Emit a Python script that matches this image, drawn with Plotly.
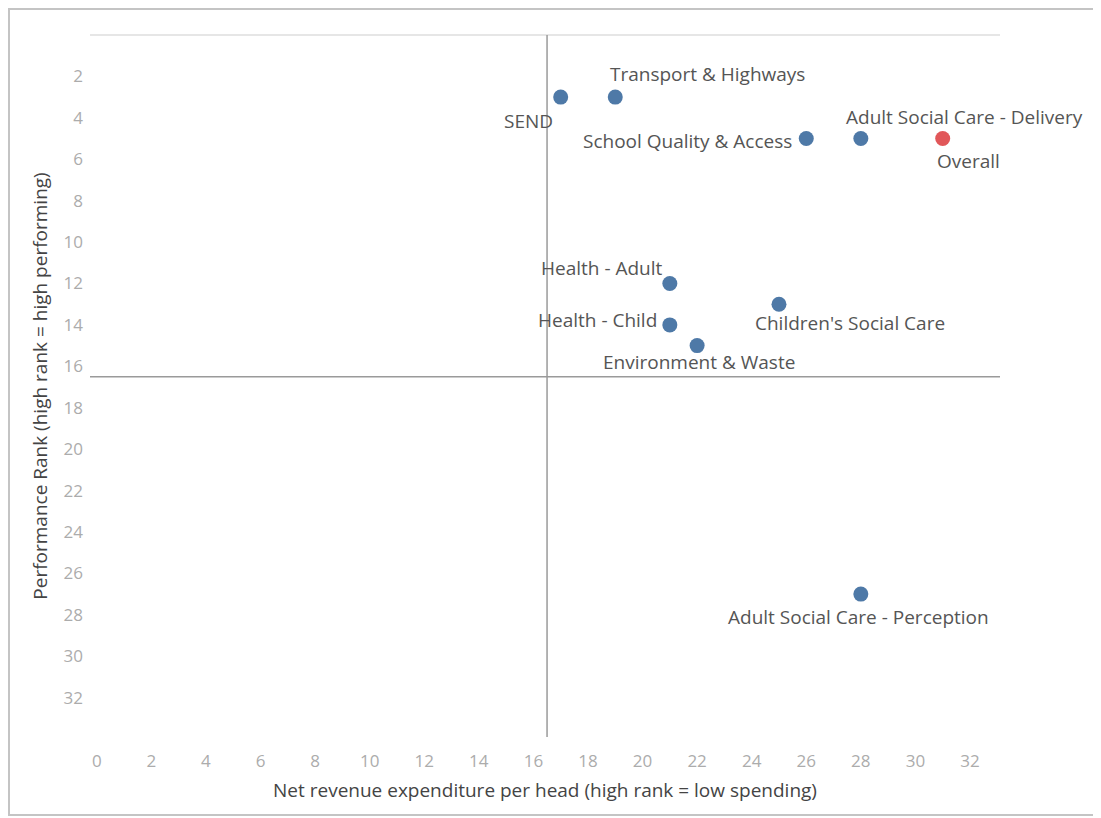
import plotly.graph_objects as go

# Data
labels = ["SEND", "Transport & Highways", "School Quality & Access",
          "Adult Social Care - Delivery", "Overall", "Health - Adult",
          "Health - Child", "Children's Social Care", "Environment & Waste",
          "Adult Social Care - Perception"]
spend_rank = [17, 19, 26, 28, 31, 21, 21, 25, 22, 28]
perf_rank = [3, 3, 5, 5, 5, 12, 14, 13, 15, 27]
is_overall = [False, False, False, False, True, False, False, False, False, False]

x_ticks = list(range(0, 33, 2))
y_ticks = list(range(2, 33, 2))
x_ref = 16.5
y_ref = 16.5
x_range = [-0.25, 33.1]
y_range = [33.9, 0]

# label placement (pixel offsets from the dot; anchor)
label_style = [
    (-32, -24, "center"), (92, 23, "center"), (-12, -2, "right"),
    (104, 22, "center"), (26, -22, "center"), (-68, 16, "center"),
    (-72, 5, "center"), (71, -19, "center"), (2, -16, "center"),
    (-2, -23, "center"),
]

BLUE = "#4e79a7"
RED = "#e15759"
colors = [RED if o else BLUE for o in is_overall]

W, H = 1093, 810
L, R, T, B = 82, 101, 27, 81
pw, ph = W - L - R, H - T - B

fig = go.Figure()
fig.add_trace(go.Scatter(
    x=spend_rank, y=perf_rank, mode="markers",
    marker=dict(size=15, color=colors),
    cliponaxis=False, hoverinfo="skip", showlegend=False,
))

for lab, xv, yv, (dx, dy, anc) in zip(labels, spend_rank, perf_rank, label_style):
    fig.add_annotation(x=xv, y=yv, xref="x", yref="y", text=lab, showarrow=False,
                       xanchor=anc, yanchor="middle", xshift=dx, yshift=dy,
                       font=dict(family="Open Sans", size=19, color="#555555"))

# reference lines
fig.add_shape(type="line", xref="x", yref="y", x0=x_ref, x1=x_ref,
              y0=y_range[1], y1=y_range[0], line=dict(color="#9a9a9a", width=1.5))
fig.add_shape(type="line", xref="x", yref="y", x0=x_range[0], x1=x_range[1],
              y0=y_ref, y1=y_ref, line=dict(color="#9a9a9a", width=1.5))

# outer frame
fig.add_shape(type="rect", xref="paper", yref="paper",
              x0=(1 - L) / pw, x1=(W - 5 - L) / pw,
              y0=(ph + T - (H - 3)) / ph, y1=(ph + T - 1) / ph,
              line=dict(color="#c4c4c4", width=2), layer="below")

fig.update_layout(
    width=W, height=H,
    margin=dict(l=L, r=R, t=T, b=B),
    paper_bgcolor="white", plot_bgcolor="white",
    font=dict(family="Open Sans", color="#555555"),
    xaxis=dict(range=x_range, tickvals=x_ticks, showgrid=False, zeroline=False,
               showline=False, ticks="", ticklabelstandoff=12,
               tickfont=dict(size=17, color="#acacac"),
               title=dict(text="Net revenue expenditure per head (high rank = low spending)",
                          font=dict(size=19, color="#444444"), standoff=12)),
    yaxis=dict(range=y_range, tickvals=y_ticks, showgrid=False, zeroline=True,
               zerolinecolor="#e6e6e6", zerolinewidth=1.5,
               showline=False, ticks="", ticklabelstandoff=6,
               tickfont=dict(size=17, color="#acacac"),
               title=dict(text="Performance Rank (high rank = high performing)",
                          font=dict(size=19, color="#444444"), standoff=10)),
)

fig.write_html("out.html")
